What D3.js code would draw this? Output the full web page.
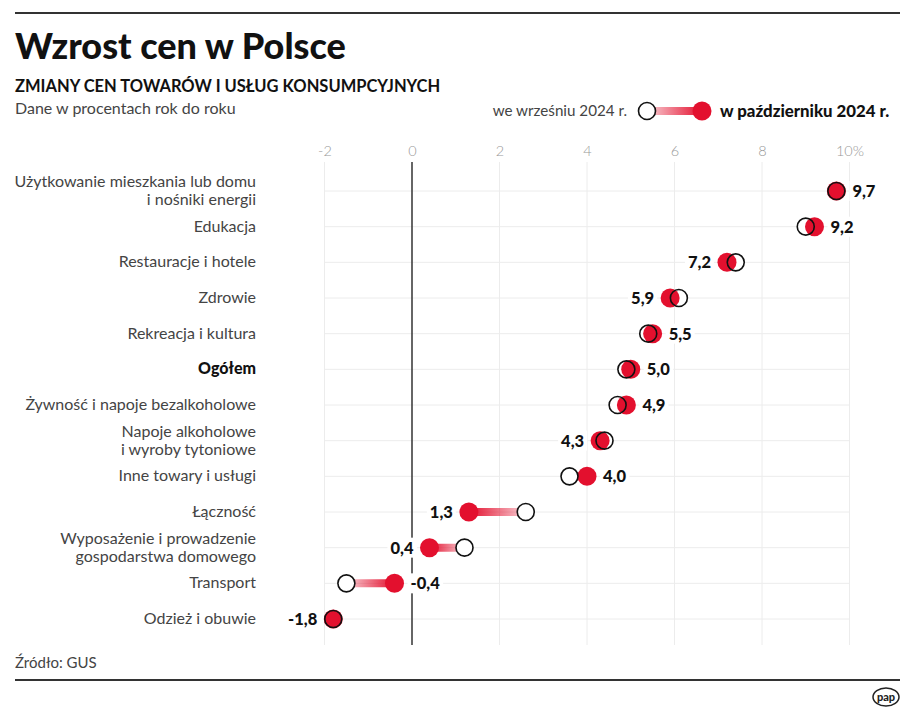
<!DOCTYPE html>
<html>
<head>
<meta charset="utf-8">
<script src="https://cdn.jsdelivr.net/npm/d3@7"></script>
<style>
  html, body { margin: 0; padding: 0; background: #fff; }
  svg { display: block; font-family: Lato, "Noto Sans", sans-serif; }
</style>
</head>
<body>
<svg id="chart" width="915" height="714"></svg>
<script>
// ---- data ----
const categories = [
  "Użytkowanie mieszkania lub domu\ni nośniki energii",
  "Edukacja",
  "Restauracje i hotele",
  "Zdrowie",
  "Rekreacja i kultura",
  "Ogółem",
  "Żywność i napoje bezalkoholowe",
  "Napoje alkoholowe\ni wyroby tytoniowe",
  "Inne towary i usługi",
  "Łączność",
  "Wyposażenie i prowadzenie\ngospodarstwa domowego",
  "Transport",
  "Odzież i obuwie"
];
const october2024 = [9.7, 9.2, 7.2, 5.9, 5.5, 5.0, 4.9, 4.3, 4.0, 1.3, 0.4, -0.4, -1.8];
const september2024 = [9.7, 9.0, 7.4, 6.1, 5.4, 4.9, 4.7, 4.4, 3.6, 2.6, 1.2, -1.5, -1.8];
const tickValues = [-2, 0, 2, 4, 6, 8, 10];
const tickLabels = ["-2", "0", "2", "4", "6", "8", "10%"];
const boldCategory = "Ogółem";
const legendSep = "we wrześniu 2024 r.";
const legendOct = "w październiku 2024 r.";

const title = "Wzrost cen w Polsce";
const subtitle = "ZMIANY CEN TOWARÓW I USŁUG KONSUMPCYJNYCH";
const note = "Dane w procentach rok do roku";
const source = "Źródło: GUS";

const RED = "#e3102e";
const fmt = v => d3.format(".1f")(v).replace(".", ",").replace("−", "-");

const svg = d3.select("#chart");
svg.append("rect").attr("width", 915).attr("height", 714).attr("fill", "#fff");

// ---- header ----
svg.append("line").attr("x1", 15).attr("x2", 900).attr("y1", 13).attr("y2", 13)
  .attr("stroke", "#333").attr("stroke-width", 2);
svg.append("text").attr("x", 15).attr("y", 59).text(title)
  .attr("font-size", 36).attr("font-weight", 900).attr("fill", "#111");
svg.append("text").attr("x", 15).attr("y", 92).text(subtitle)
  .attr("font-size", 16.5).attr("font-weight", 700).attr("fill", "#111");
svg.append("text").attr("x", 15).attr("y", 114).text(note)
  .attr("font-size", 16).attr("fill", "#444");

// ---- scales ----
const x = d3.scaleLinear().domain([0, 10]).range([412, 849.5]);
const y = d3.scalePoint().domain(categories).range([191, 619]);
const gridTop = 162, gridBottom = 645;

const defs = svg.append("defs");

// ---- legend ----
const lg = svg.append("g");
const lgY = 111, lgOpen = 647, lgRed = 702;
const lgGrad = defs.append("linearGradient").attr("id", "lgGrad")
  .attr("gradientUnits", "userSpaceOnUse")
  .attr("x1", lgOpen).attr("x2", lgRed).attr("y1", 0).attr("y2", 0);
lgGrad.append("stop").attr("offset", "0%").attr("stop-color", RED).attr("stop-opacity", 0.2);
lgGrad.append("stop").attr("offset", "100%").attr("stop-color", RED).attr("stop-opacity", 1);
lg.append("text").attr("x", 627).attr("y", lgY + 5).attr("text-anchor", "end")
  .attr("font-size", 15.2).attr("fill", "#444").text(legendSep);
lg.append("line").attr("x1", lgOpen).attr("x2", lgRed).attr("y1", lgY).attr("y2", lgY)
  .attr("stroke", "url(#lgGrad)").attr("stroke-width", 8);
lg.append("circle").attr("cx", lgOpen).attr("cy", lgY).attr("r", 8.5)
  .attr("fill", "#fff").attr("stroke", "#111").attr("stroke-width", 1.6);
lg.append("circle").attr("cx", lgRed).attr("cy", lgY).attr("r", 9.5).attr("fill", RED);
lg.append("text").attr("x", 720).attr("y", lgY + 6).attr("font-size", 16.8)
  .attr("font-weight", 900).attr("fill", "#111").text(legendOct);

// ---- grid & axis ----
const g = svg.append("g");
const axisTop = d3.axisTop(x).tickValues(tickValues)
  .tickFormat((d, i) => tickLabels[i]).tickSize(0).tickPadding(0);
const axisG = g.append("g").attr("transform", "translate(0,156)").call(axisTop);
axisG.select(".domain").remove();
axisG.selectAll("text").attr("font-size", 14.5).attr("fill", "#999")
  .attr("font-family", "Lato, sans-serif").attr("font-weight", 300).attr("dy", 0);

g.selectAll(".vgrid").data(tickValues.filter(d => d !== 0)).join("line")
  .attr("x1", d => x(d)).attr("x2", d => x(d)).attr("y1", gridTop).attr("y2", gridBottom)
  .attr("stroke", "#ececec").attr("stroke-width", 1);
g.selectAll(".hgrid").data(categories).join("line")
  .attr("x1", x(-2)).attr("x2", x(10)).attr("y1", d => y(d)).attr("y2", d => y(d))
  .attr("stroke", "#ececec").attr("stroke-width", 1);
g.append("line").attr("x1", x(0)).attr("x2", x(0)).attr("y1", gridTop).attr("y2", gridBottom)
  .attr("stroke", "#333").attr("stroke-width", 1.5);

// ---- category labels ----
const labG = svg.append("g");
categories.forEach(c => {
  const lines = c.split("\n");
  const lh = 18;
  const t = labG.append("text").attr("text-anchor", "end").attr("font-size", 16)
    .attr("fill", c === boldCategory ? "#111" : "#444")
    .attr("font-weight", c === boldCategory ? 900 : 400);
  lines.forEach((ln, i) => {
    t.append("tspan").attr("x", 256)
      .attr("y", y(c) + 5 + (i - (lines.length - 1) / 2) * lh).text(ln);
  });
});

// ---- dumbbells ----
const rows = categories.map((c, i) => ({ c, oct: october2024[i], sep: september2024[i], i }));
const mg = svg.append("g");
rows.forEach(d => {
  const cy = y(d.c), xo = x(d.oct), xs = x(d.sep);
  if (Math.abs(xs - xo) > 1) {
    const id = "grad" + d.i;
    const gr = defs.append("linearGradient").attr("id", id)
      .attr("gradientUnits", "userSpaceOnUse")
      .attr("x1", xs).attr("x2", xo).attr("y1", 0).attr("y2", 0);
    gr.append("stop").attr("offset", "0%").attr("stop-color", RED).attr("stop-opacity", 0.2);
    gr.append("stop").attr("offset", "100%").attr("stop-color", RED).attr("stop-opacity", 1);
    mg.append("line").attr("x1", xs).attr("x2", xo).attr("y1", cy).attr("y2", cy)
      .attr("stroke", `url(#${id})`).attr("stroke-width", 8);
  }
  mg.append("circle").attr("cx", xs).attr("cy", cy).attr("r", 8.5).attr("fill", "#fff");
  mg.append("circle").attr("cx", xo).attr("cy", cy).attr("r", 9.5).attr("fill", RED);
  mg.append("circle").attr("cx", xs).attr("cy", cy).attr("r", 8.5)
    .attr("fill", "none").attr("stroke", "#111").attr("stroke-width", 1.6);

  let right;
  if (d.oct > d.sep) right = true;
  else if (d.oct < d.sep) right = false;
  else right = d.oct > 0;
  const lx = right ? Math.max(xo, xs) + 16 : Math.min(xo, xs) - 16;
  const t = mg.append("text").attr("x", lx).attr("y", cy + 6)
    .attr("text-anchor", right ? "start" : "end")
    .attr("font-size", 16.5).attr("font-weight", 900).attr("fill", "#111")
    .text(fmt(d.oct));
  const bb = t.node().getBBox();
  mg.insert("rect", () => t.node())
    .attr("x", bb.x - 3).attr("y", cy - 10).attr("width", bb.width + 6).attr("height", 20)
    .attr("fill", "#fff");
});

// ---- footer ----
svg.append("text").attr("x", 15).attr("y", 668).text(source)
  .attr("font-size", 15).attr("fill", "#444");
svg.append("line").attr("x1", 15).attr("x2", 900).attr("y1", 680).attr("y2", 680)
  .attr("stroke", "#333").attr("stroke-width", 2);
const logo = svg.append("g").attr("transform", "translate(886,697)");
logo.append("ellipse").attr("rx", 13).attr("ry", 9).attr("fill", "#fff")
  .attr("stroke", "#222").attr("stroke-width", 1.5);
logo.append("text").attr("text-anchor", "middle").attr("y", 4).attr("font-size", 11)
  .attr("font-weight", 900).attr("fill", "#222").text("pap");
</script>
</body>
</html>
